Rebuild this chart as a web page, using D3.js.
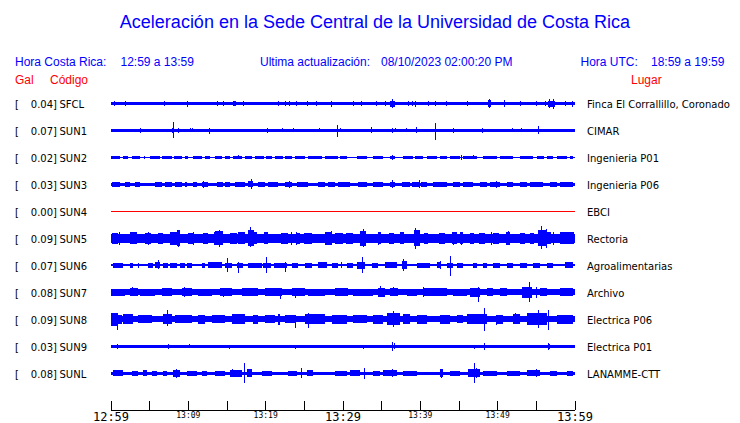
<!DOCTYPE html>
<html><head><meta charset="utf-8">
<script src="https://cdn.jsdelivr.net/npm/d3@7"></script>
<style>body{margin:0;background:#fff} svg{display:block}</style>
</head><body><svg id="c" width="740" height="423"></svg>
<script>
// ---------- DATA ----------
const title = "Aceleración en la Sede Central de la Universidad de Costa Rica";
const headerLocal = ["Hora Costa Rica:", "12:59 a 13:59"];
const headerUpdate = ["Ultima actualización:", "08/10/2023 02:00:20 PM"];
const headerUTC = ["Hora UTC:", "18:59 a 19:59"];
const colHeaders = ["Gal", "Código", "Lugar"];

const codes = ["SFCL","SUN1","SUN2","SUN3","SUN4","SUN5","SUN6","SUN7","SUN8","SUN9","SUNL"];
const galValues = ["0.04","0.07","0.02","0.03","0.00","0.09","0.07","0.08","0.09","0.03","0.08"];
const places = ["Finca El Corrallillo, Coronado","CIMAR","Ingenieria P01","Ingenieria P06","EBCI","Rectoria","Agroalimentarias","Archivo","Electrica P06","Electrica P01","LANAMME-CTT"];

// minutes after 12:59
const tickMinutes = [0,5,10,15,20,25,30,35,40,45,50,55,60];
const tickLabels = ["12:59","","13:09","","13:19","","13:29","","13:39","","13:49","","13:59"];
const majorLabels = ["12:59","13:29","13:59"];

// background noise half-amplitude of each trace
const baseAmp = [1.5,1.35,0.5,1.5,0,4.3,1,3,3,1.65,1.5];

// noisy stretches: [start min, end min, half-amplitude]
const segSFCL = [[15.9,16.2,2.3],[36.2,36.8,3.0],[48.8,49.2,3.3],[56.6,57.5,3.0]];
const segSUN1 = [[27.4,27.8,1.8]];
const segSUN2 = [[0,1.23,1.2],[1.66,2.31,1.2],[2.74,3.81,1.2],[5.11,6.4,1.2],[6.62,7.9,1.2],[8.2,9.2,1.2],[9.63,10.06,1.2],[10.71,11.79,1.2],[12.22,12.87,1.2],[13.51,14.37,1.2],[14.81,15.45,1.2],[15.88,16.96,1.2],[17.39,18.25,1.2],[18.69,19.8,1.2],[20.1,20.84,1.2],[21.27,22.3,1.2],[22.6,23.43,1.2],[23.86,25.15,1.2],[25.58,27.3,1.2],[27.74,29.46,1.2],[29.68,30.54,1.2],[31.84,33.13,1.2],[33.99,35.28,1.2],[36.15,36.79,1.2],[37.87,39.1,1.2],[39.4,40.46,1.2],[40.89,42.18,1.2],[42.61,43.47,1.2],[43.9,45.2,1.2],[45.63,47.35,1.2],[48.21,49.94,1.2],[50.37,52.09,1.2],[52.96,54.68,1.2],[55.11,56.1,1.2],[56.4,57.27,1.2],[57.7,58.99,1.2],[59.42,59.85,1.2]];
const segSUN3 = [[0.15,1.23,2.5],[1.88,2.52,2.5],[3.17,3.81,2.5],[5.75,6.62,2.5],[7.05,7.91,2.5],[8.34,9.2,2.5],[9.63,9.85,2.5],[10.71,11.14,2.5],[11.79,12.65,2.5],[13.73,14.5,2.5],[14.8,15.45,2.5],[16.1,17.39,2.5],[17.82,18.47,3],[19.12,20.0,2.5],[20.4,21.7,2.5],[22.56,23.43,2.5],[24.07,25.58,2.5],[26.87,27.74,2.5],[28.17,29.03,2.5],[29.46,30.97,2.5],[32.05,33.13,2.5],[33.99,35.28,2.5],[36.15,36.79,2.5],[37.65,38.7,2.7],[39.0,40.0,2.7],[40.2,40.89,2.7],[41.75,43.47,2.5],[44.34,45.2,2.5],[45.63,46.92,2.5],[47.78,48.65,2.5],[49.08,50.37,2.5],[51.23,52.09,2.5],[52.96,53.82,2.5],[54.25,55.97,2.5],[56.84,57.7,2.5],[58.13,59.85,2.5]];
const segSUN4 = [];
const segSUN5 = [[0.15,1.0,5.5],[2.5,3.4,6],[4.5,5.3,5.5],[6.2,6.8,5.5],[7.7,8.6,6.5],[8.6,9.0,8],[10.0,10.7,5.5],[12.0,12.6,5.5],[13.5,14.6,7],[15.5,16.3,5.5],[16.5,17.4,6],[17.8,18.5,8],[18.5,18.9,6],[19.8,20.4,6],[22.1,23,5.5],[24.0,24.5,5.5],[25,26,5.5],[27.7,28.6,6.5],[29,30,5.5],[30.4,31.3,5.5],[32.2,33.1,7.5],[34.6,35,6],[36.0,36.6,5.5],[37.4,37.9,6],[39.2,40.0,8],[40.5,41,5.5],[42.5,43.2,5.5],[44.2,44.8,6],[45.2,45.6,6],[46.5,47.0,5.5],[47.6,48.4,5.5],[49.5,50.2,5.5],[51.2,51.7,6.5],[53,53.6,5.5],[54.3,54.8,5.5],[55.3,56.4,8],[56.4,56.9,6],[58.1,59.9,6]];
const segSUN6 = [[0.37,1.66,2.5],[2.52,2.95,2.5],[3.5,3.7,2.5],[4.89,5.54,2.5],[5.75,6.4,3],[6.83,7.48,2.5],[7.69,8.56,2.5],[8.99,9.6,2.5],[9.9,10.5,2.5],[11.79,12.22,2.5],[12.65,14.37,3],[14.81,15.67,2.5],[16.32,17.18,2.5],[17.82,19.55,2.5],[19.76,20.8,2.5],[21.1,22.78,2.5],[23.43,24.29,2.5],[25.15,26.01,2.5],[26.87,27.95,3],[28.6,29.46,2.5],[30.54,31.4,2.5],[31.84,32.91,3.5],[33.77,34.64,2.5],[35.5,37.01,3],[37.65,38.3,4],[39.59,41.32,2.5],[42.18,42.61,3],[43.47,44.34,2.5],[44.77,45.63,2.5],[46.92,47.35,2.5],[48.21,48.65,2.5],[49.51,50.37,2.5],[51.23,52.09,2.5],[52.96,53.82,2.5],[54.68,55.54,2.5],[56.4,57.27,2.5],[58.78,59.85,3]];
const segSUN7 = [[0,1.88,3.7],[2.52,3.6,4],[3.81,5.75,3.7],[6.62,7.91,4],[9.2,10.5,4],[11.36,13.08,3.7],[14.16,15.67,4],[16.96,19.12,4],[19.98,22.13,4],[23.43,25.15,4],[25.58,27.74,3.7],[29.03,30.32,4],[30.33,30.76,4],[31.4,33.99,3.7],[34.64,35.5,4.5],[36.15,37.22,4],[38.3,39.59,3.7],[40.46,43.47,4],[44.34,46.06,3.7],[46.49,47.78,4.5],[48.65,49.51,4],[50.37,51.23,4],[53.17,54.46,5.5],[55.54,56.4,4],[58.13,59.85,4]];
const segSUN8 = [[0,1.01,6.3],[1.01,1.44,4.5],[1.66,2.95,5],[3.6,5.32,4],[6.83,7.91,5],[8.34,10.5,4],[11.36,12.22,4.5],[13.08,14.81,4],[15.67,17.39,5],[18.47,19.12,4.5],[19.98,21.27,4],[21.7,21.92,5.7],[22.56,23.86,4],[25.15,27.74,5],[28.6,30.32,4.5],[30.32,30.54,4.5],[31.4,33.13,4],[33.99,35.28,4.5],[35.71,37.44,6],[37.87,38.73,5],[39.59,40.89,4.5],[42.61,43.9,4.5],[44.77,45.63,4],[46.06,48.65,5],[49.94,50.8,4.5],[52.09,52.96,5],[53.82,56.4,6],[57.7,59.85,4.5]];
const segSUN9 = [];
const segSUNL = [[0.37,1.66,3],[2.74,3.6,2.5],[4.25,4.68,3],[5.32,5.97,2.5],[6.83,7.26,2.5],[8.12,8.99,3.5],[9.85,11.14,2.5],[11.79,12.44,2.5],[13.51,14.81,2.5],[15.45,16.96,3.5],[17.61,18.25,4],[19.55,20.84,2.5],[23,24.07,2.5],[25.37,26.23,3],[29.03,30.32,2.5],[30.32,30.54,2.5],[30.97,32.27,3],[33.99,34.85,2.5],[35.28,37.01,3],[37.87,39.59,2.5],[42.61,43.04,4],[43.9,45.2,2.5],[46.27,47.78,4],[48.21,49.94,2.5],[51.23,52.96,2.5],[53.82,55.54,3],[56.84,57.7,2.5],[58.99,59.85,2.5]];

// single peaks: [minute, up, down]
const spkSFCL = [[0.5,2.3,2.3],[2.0,2.3,2.3],[7.0,2.8,2.8],[10.0,2.5,3.0],[13.9,2.8,2.5],[14.6,2.3,2.3],[16.0,2.5,2.5],[17.2,2.3,2.3],[21.7,2.5,2.5],[22.6,2.5,2.5],[23.1,2.3,2.3],[24.0,2.3,2.3],[25.5,2.5,2.5],[26.6,2.3,2.3],[28.6,2.5,3.5],[31.4,2.3,2.3],[32.4,2.3,2.3],[34.4,2.3,2.3],[35.5,2.3,2.3],[36.45,4.3,4.3],[38.5,2.8,2.8],[39.0,2.8,2.8],[39.5,3.0,3.0],[41.1,2.3,2.3],[42.0,2.3,2.3],[43.4,2.3,2.3],[46.1,2.3,2.3],[48.95,4.3,4.3],[50.9,3.8,3.5],[53.0,2.5,2.5],[55.1,2.3,2.3],[56.2,2.3,2.3],[56.8,4.5,4.3],[57.3,5.0,5.0],[58.8,2.5,2.5],[59.7,3.0,3.0]];
const spkSUN1 = [[3.9,2.5,2.5],[5.2,1.8,1.8],[7.5,1.8,1.8],[8.0,2.5,2.5],[8.2,8.3,7.3],[8.8,2.5,2.5],[10.3,2.0,2.0],[10.6,2.0,2.0],[12.8,2.5,3.3],[20.3,2.5,2.5],[22.3,2.0,2.0],[23.6,2.0,2.0],[27.0,2.0,2.0],[29.3,5.3,6.3],[29.8,2.0,2.0],[33.8,3.0,3.0],[36.45,2.5,2.5],[36.8,2.0,2.0],[38.3,2.0,2.0],[39.6,3.0,3.0],[42.05,7.3,9.7],[44.3,2.5,2.5],[48.1,2.5,2.5],[52.0,2.0,2.0],[53.2,2.0,2.0],[55.4,4.7,3.3]];
const spkSUN2 = [[4.46,1.5,1.5],[16.5,2,2],[36.45,2.5,2.5],[45.4,2.5,2.5],[46.9,2,2]];
const spkSUN3 = [[12.0,3.5,3.5],[18.17,5,4.7],[23.21,3.5,3.5],[36.45,4,4],[40.02,4,4],[49.94,3,3.5]];
const spkSUN4 = [];
const spkSUN5 = [[8.77,8.3,9],[14.1,8,8.5],[18.1,11,8.3],[32.7,9,9],[39.5,10.7,11],[51.45,7,7],[55.76,12.3,11],[56.4,9,10],[1.1,6.5,6.5],[4.9,6.5,6.5],[10.7,6.5,6.5],[13.5,6.5,6.5],[23.4,6.5,6.5],[24.1,6.5,6.5],[28.6,7,7],[34.6,6.5,6.5],[44.3,6.5,6.5],[45.4,6.5,6.5],[49.3,6.5,6.5],[57.3,6.5,6.5]];
const spkSUN6 = [[6.19,5.3,4],[15.11,7.7,6.3],[16.53,3,7.3],[20.19,8.7,7.3],[22.61,3,6.3],[29.9,3,3],[32.57,8.7,8],[37.87,6,5.7],[42.61,4,4],[44.03,9.3,10.7]];
const spkSUN7 = [[2.82,5,4],[9.63,5,5],[14.59,4.5,4.5],[21.92,4,7],[23.86,4,6],[34.85,6.3,4],[36.58,5.7,4],[40.46,5,5],[47.57,5,9.3],[54.12,10,10],[55.1,5,6]];
const spkSUN8 = [[0.88,6,10.3],[7.35,9,7],[23.86,4,8.3],[25.58,6.7,8.7],[36.58,8,7.3],[48.34,11,11.7],[49.94,4.5,6],[52.31,6.7,4],[55.37,9.7,8.7],[56.62,9.7,11]];
const spkSUN9 = [[0.88,2.7,2.7],[7.44,2.7,2.7],[10.28,2,2],[15.37,1.6,2.7],[23.86,1.6,2.7],[32.7,1.6,2.5],[36.45,4.7,4.7],[36.66,3,3],[47.05,1.6,2.5],[48.34,3.7,3.7],[56.62,3.3,3.7],[56.75,2.5,2.5]];
const spkSUNL = [[8.56,4,4.3],[15.75,4,4],[17.39,10.3,10],[24.72,5.7,4.3],[32.83,5.3,5.3],[36.45,4.3,4],[42.74,3,4.3],[47.05,10,10],[47.35,5,5],[55.11,4,4]];

const segs = [segSFCL,segSUN1,segSUN2,segSUN3,segSUN4,segSUN5,segSUN6,segSUN7,segSUN8,segSUN9,segSUNL];
const spikes = [spkSFCL,spkSUN1,spkSUN2,spkSUN3,spkSUN4,spkSUN5,spkSUN6,spkSUN7,spkSUN8,spkSUN9,spkSUNL];

// ---------- DRAW ----------
const BLUE = "#0000ff", RED = "#ff0000";
const SANS = "'Liberation Sans', Arial, Helvetica, sans-serif";
const DEJAVU = "'DejaVu Sans', sans-serif";
const MONO = "'DejaVu Sans Mono', monospace";
const svg = d3.select("#c");
svg.append("rect").attr("width",740).attr("height",423).attr("fill","#fff");

function txt(x,y,s,opt){
  const t = svg.append("text").attr("x",x).attr("y",y).text(s)
    .attr("font-family",opt.f||SANS).attr("font-size",opt.s||12).attr("fill",opt.c||"#000");
  if(opt.a) t.attr("text-anchor",opt.a);
  return t;
}
txt(375,28,title,{s:18,c:BLUE,a:"middle"});
txt(15,65.5,headerLocal[0],{c:BLUE});
txt(120.5,65.5,headerLocal[1],{c:BLUE});
txt(260,65.5,headerUpdate[0],{c:BLUE});
txt(381,65.5,headerUpdate[1],{c:BLUE});
txt(580.5,65.5,headerUTC[0],{c:BLUE});
txt(651,65.5,headerUTC[1],{c:BLUE});
txt(15,84,colHeaders[0],{c:RED});
txt(50,84,colHeaders[1],{c:RED});
txt(631,84,colHeaders[2],{c:RED});

const x = d3.scaleLinear().domain([0,60]).range([110.5,574.5]);
const yRow = d3.scalePoint().domain(codes).range([103.5,373.3]);
const amp = d3.scaleLinear().domain([0,13.5]).range([0,13.5]);

codes.forEach((code,i)=>{
  const cy = yRow(code);
  txt(15,cy+4.2,"[",{f:DEJAVU,s:10});
  txt(57,cy+4.2,galValues[i]+"]",{f:DEJAVU,s:10,a:"end"});
  txt(59.5,cy+4.2,code,{f:DEJAVU,s:10});
  txt(587,cy+4.2,places[i],{f:DEJAVU,s:10});

  const g = svg.append("g").attr("transform",`translate(0,${cy})`).attr("shape-rendering","crispEdges");
  if(baseAmp[i]===0){
    g.append("line").attr("x1",x(0)).attr("x2",x(60)).attr("y1",0.5).attr("y2",0.5)
      .attr("stroke",RED).attr("stroke-width",1);
    return;
  }
  g.append("rect").attr("x",x(0)).attr("width",x(60)-x(0))
    .attr("y",-amp(baseAmp[i])).attr("height",2*amp(baseAmp[i])).attr("fill",BLUE);
  g.selectAll("rect.seg").data(segs[i]).join("rect").attr("class","seg")
    .attr("x",d=>x(d[0])).attr("width",d=>Math.max(1,x(d[1])-x(d[0])))
    .attr("y",d=>-amp(d[2])).attr("height",d=>2*amp(d[2])).attr("fill",BLUE);
  g.selectAll("rect.spk").data(spikes[i]).join("rect").attr("class","spk")
    .attr("x",d=>Math.floor(x(d[0]))).attr("width",1)
    .attr("y",d=>-amp(d[1])).attr("height",d=>amp(d[1])+amp(d[2])).attr("fill",BLUE);
});

// time axis
const axis = d3.axisBottom(x).tickValues(tickMinutes)
  .tickFormat((d,i)=>tickLabels[i]).tickSizeInner(-9).tickSizeOuter(0).tickPadding(2.5);
const ag = svg.append("g").attr("transform","translate(0,409.5)").call(axis);
ag.select(".domain").attr("stroke","#000").attr("shape-rendering","crispEdges");
ag.selectAll(".tick line").attr("stroke","#000").attr("shape-rendering","crispEdges");
ag.selectAll(".tick text").attr("fill","#000").attr("font-family",MONO)
  .attr("font-size",(d,i)=>majorLabels.includes(tickLabels[i])?12:8);
</script></body></html>
